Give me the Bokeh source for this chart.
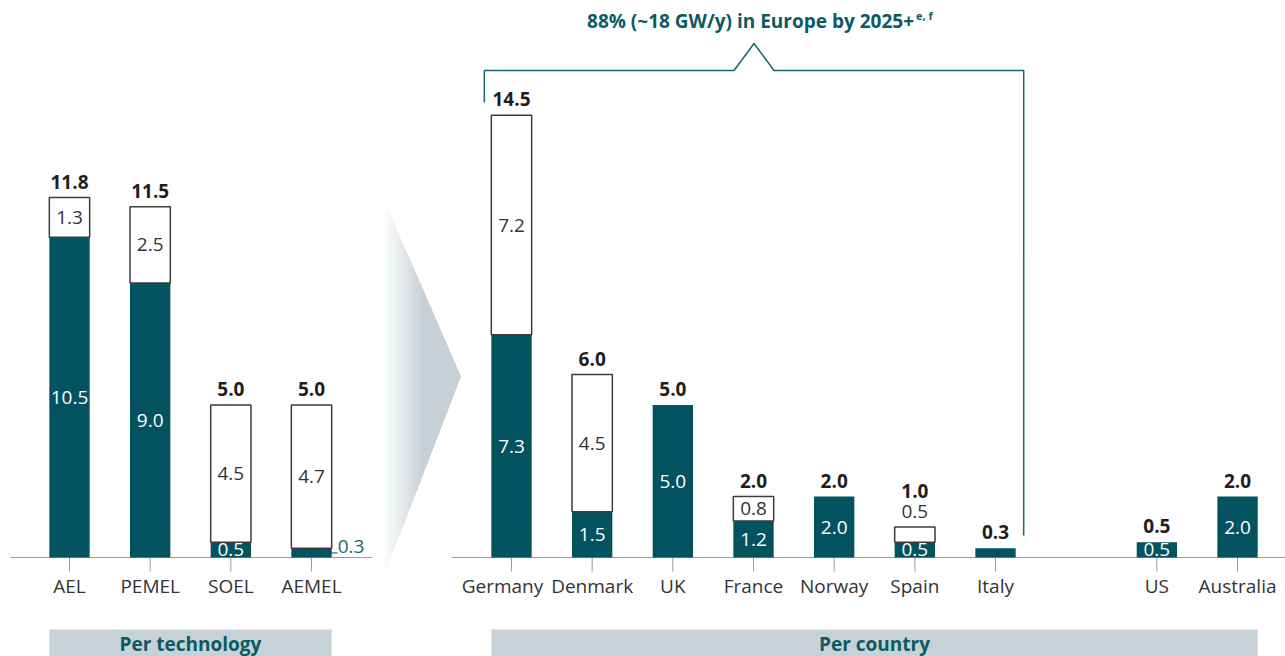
import numpy as np
from bokeh.plotting import figure
from bokeh.models import Range1d
from bokeh.embed import file_html
from bokeh.resources import INLINE
from bokeh.core.properties import value

# ---------------- data ----------------
technologies = ["AEL", "PEMEL", "SOEL", "AEMEL"]
tech_base = [10.5, 9.0, 0.5, 0.3]
tech_extra = [1.3, 2.5, 4.5, 4.7]
tech_total = [11.8, 11.5, 5.0, 5.0]

countries = ["Germany", "Denmark", "UK", "France", "Norway", "Spain", "Italy", "US", "Australia"]
country_base = [7.3, 1.5, 5.0, 1.2, 2.0, 0.5, 0.3, 0.5, 2.0]
country_extra = [7.2, 4.5, 0.0, 0.8, 0.0, 0.5, 0.0, 0.0, 0.0]
country_total = [14.5, 6.0, 5.0, 2.0, 2.0, 1.0, 0.3, 0.5, 2.0]
europe_count = 7

title_main = "88% (~18 GW/y) in Europe by 2025+"
title_sup = "e, f"
panel_titles = ["Per technology", "Per country"]

# ---------------- layout / style ----------------
W, H = 1285, 656
SLOT = 80.67      # px per category slot
UNIT = 30.5       # px per GW
ORG_X, ORG_Y = 69, 557   # px of first bar centre / baseline
PAGE_X, PAGE_Y = 0, 0    # where the canvas starts in the picture


def px(xp):
    return (xp - ORG_X) / SLOT


def py(yp):
    return (ORG_Y - yp) / UNIT


x0 = px(PAGE_X)
x1 = x0 + W / SLOT
y1 = py(PAGE_Y)
y0 = y1 - H / UNIT

TEAL = "#02535f"
TEAL_TXT = "#0c5a64"
DARK = "#1e1e1e"
TXT = "#333333"
GREY_BOX = "#c6d2d8"
AXIS = "#9a9a9a"
OUTLINE = "#3c3c3c"
FONT = value("Open Sans")
BW = 0.5

tech_x = np.arange(len(technologies)) * 1.0
slots = np.array([0, 1, 2, 3, 4, 5, 6, 8, 9])
country_x = px(511) + slots

p = figure(width=W, height=H, x_range=Range1d(x0, x1), y_range=Range1d(y0, y1),
           output_backend="svg", toolbar_location=None, x_axis_type=None,
           y_axis_type=None, min_border=0)
p.grid.visible = False
p.outline_line_color = None
p.background_fill_color = "white"
p.border_fill_color = "white"

# ---------------- wedge (gradient arrow) ----------------
xL, xA = px(382), px(460)
yT, yA, yB = py(197), py(376), py(578)
xFull = px(422)
n = 40
xs_list, ys_list, cols = [], [], []
c_end = np.array([198, 209, 215])
for i in range(n + 1):
    xi = xL + (xFull - xL) * i / n
    f = (xi - xL) / (xA - xL)
    top = yT + (yA - yT) * f
    bot = yB + (yA - yB) * f
    xs_list.append([xi, xA, xi])
    ys_list.append([top, yA, bot])
    t = i / n
    c = (1 - t) * np.array([255, 255, 255]) + t * c_end
    cols.append("#%02x%02x%02x" % tuple(int(round(v)) for v in c))
p.patches(xs_list, ys_list, fill_color=cols, line_color=None)

# ---------------- baselines & ticks ----------------
p.segment(x0=[px(10), px(451)], y0=[0, 0], x1=[px(372), x1], y1=[0, 0],
          line_color=AXIS, line_width=1)
all_x = np.concatenate([tech_x, country_x])
p.segment(x0=all_x, y0=np.zeros(len(all_x)), x1=all_x,
          y1=np.full(len(all_x), py(571)), line_color=AXIS, line_width=1)

# ---------------- bars ----------------
bx = np.concatenate([tech_x, country_x])
base = np.array(tech_base + country_base)
extra = np.array(tech_extra + country_extra)
total = np.array(tech_total + country_total)

p.vbar(x=bx, width=BW, bottom=0, top=base, fill_color=TEAL, line_color=None)
m = extra > 0
p.vbar(x=bx[m], width=BW, bottom=base[m], top=base[m] + extra[m],
       fill_color="white", line_color=OUTLINE, line_width=1.5)

# ---------------- value labels ----------------
LBL = "19px"
PAD = 0.52
inner_base_x, inner_base_y, inner_base_t = [], [], []
callout_x, callout_y, callout_t = [], [], []
for xv, b, is_tech in zip(bx, base, [True] * 4 + [False] * 9):
    if b >= 0.5:
        inner_base_x.append(xv)
        inner_base_y.append(b / 2)
        inner_base_t.append(f"{b:.1f}")
    elif is_tech:
        callout_x.append(xv)
        callout_y.append(b)
        callout_t.append(f"{b:.1f}")
p.text(x=inner_base_x, y=inner_base_y, text=inner_base_t, text_font=FONT,
       text_font_size=LBL, text_color="white", text_align="center",
       text_baseline="middle")

for xv, b, t in zip(callout_x, callout_y, callout_t):
    p.segment(x0=[xv + BW / 2 - 0.01], y0=[b / 2], x1=[xv + BW / 2 + 6 / SLOT],
              y1=[b / 2], line_color=TEAL, line_width=1)
    p.text(x=[xv + BW / 2 + 6 / SLOT], y=[b + 0.05], text=[t], text_font=FONT,
           text_font_size=LBL, text_color="#1d6670", text_align="left",
           text_baseline="middle")

ex_x, ex_y, ex_t = [], [], []
tot_y = []
for xv, b, e, tt in zip(bx, base, extra, total):
    if e >= 0.8:
        ex_x.append(xv); ex_y.append(b + e / 2); ex_t.append(f"{e:.1f}")
        tot_y.append(tt + PAD)
    elif e > 0:
        ex_x.append(xv); ex_y.append(tt + PAD); ex_t.append(f"{e:.1f}")
        tot_y.append(tt + PAD + 0.66)
    else:
        tot_y.append(tt + PAD)
p.text(x=ex_x, y=ex_y, text=ex_t, text_font=FONT, text_font_size=LBL,
       text_color=TXT, text_align="center", text_baseline="middle")

p.text(x=bx, y=tot_y, text=[f"{v:.1f}" for v in total], text_font=FONT,
       text_font_size=LBL, text_font_style="bold", text_color=DARK,
       text_align="center", text_baseline="middle")

# category labels (first country label sits slightly left of its tick)
label_x = bx.copy()
label_x[len(technologies)] -= 9 / SLOT
p.text(x=label_x, y=np.full(len(bx), py(585)), text=technologies + countries,
       text_font=FONT, text_font_size=LBL, text_color=TXT,
       text_align="center", text_baseline="middle")

# ---------------- panel boxes ----------------
box_l = [tech_x[0] - BW / 2, country_x[0] - BW / 2]
box_r = [tech_x[-1] + BW / 2, country_x[-1] + BW / 2]
p.quad(left=box_l, right=box_r, top=[py(629)] * 2, bottom=[y0 - 1] * 2,
       fill_color=GREY_BOX, line_color=None)
p.text(x=[(l + r) / 2 for l, r in zip(box_l, box_r)], y=[py(643)] * 2,
       text=panel_titles, text_font=FONT, text_font_size=LBL,
       text_font_style="bold", text_color=TEAL_TXT, text_align="center",
       text_baseline="middle")

# ---------------- Europe bracket ----------------
bl = country_x[0] - BW / 2 - 7 / SLOT
br = country_x[europe_count - 1] + BW / 2 + 8 / SLOT
mid = (bl + br) / 2
hy = py(70)
notch = 20 / SLOT
p.line(x=[bl, bl, mid - notch, mid, mid + notch, br, br],
       y=[py(102), hy, hy, py(43), hy, hy, py(535)],
       line_color="#1a6670", line_width=1.5)

p.text(x=[mid + 160 / SLOT], y=[py(20)], text=[title_main], text_font=FONT,
       text_font_size="19px", text_font_style="bold", text_color=TEAL_TXT,
       text_align="right", text_baseline="middle")
p.text(x=[mid + 162 / SLOT], y=[py(15)], text=[title_sup], text_font=FONT,
       text_font_size="11px", text_font_style="bold", text_color=TEAL_TXT,
       text_align="left", text_baseline="middle")

open("out.html", "w").write(file_html(p, INLINE))
